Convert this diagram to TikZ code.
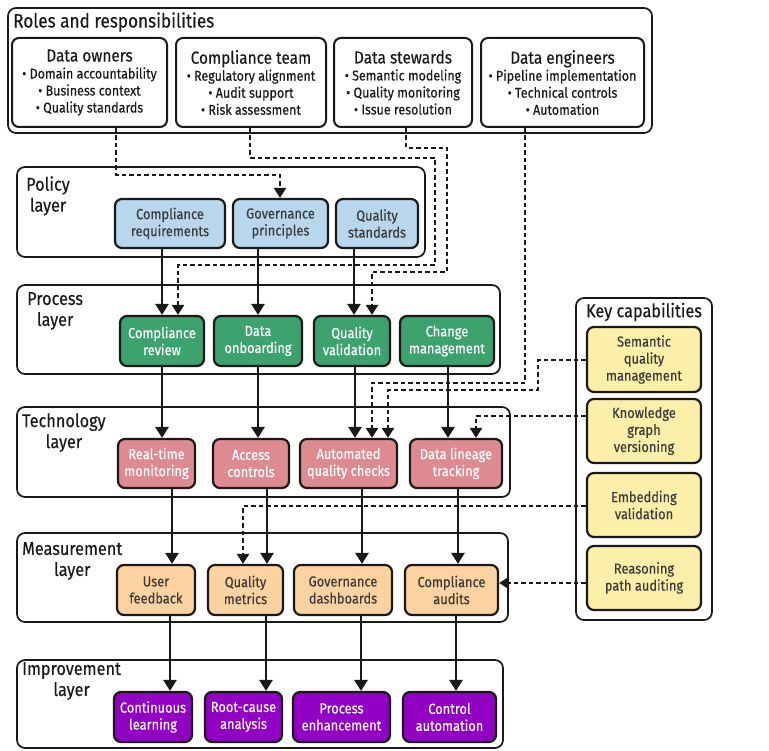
\documentclass[tikz,border=0pt]{standalone}
\usepackage{fontspec}
\setmainfont{Fira Sans}[FakeStretch=0.88, FakeBold=0.3]
\usetikzlibrary{arrows.meta}
\definecolor{ink}{RGB}{25,25,25}
\definecolor{polc}{RGB}{185,215,236}
\definecolor{proc}{RGB}{60,162,110}
\definecolor{tecc}{RGB}{221,138,145}
\definecolor{meac}{RGB}{252,211,160}
\definecolor{impc}{RGB}{146,0,196}
\definecolor{kcc}{RGB}{251,239,170}
\newcommand\rtit[1]{{\fontsize{17.5}{19}\selectfont #1}}
\tikzset{
  box/.style={draw=ink, line width=2.2pt, rounded corners=7pt, align=center, inner sep=1pt,
    font=\fontsize{14.6}{17}\selectfont},
  rolebox/.style={draw=ink, line width=2pt, rounded corners=7pt, align=center, inner sep=1pt,
    font=\fontsize{14.2}{17}\selectfont, text=ink},
  polbox/.style={box, fill=polc, text=ink!85},
  probox/.style={box, fill=proc, text=white},
  tecbox/.style={box, fill=tecc, text=white},
  meabox/.style={box, fill=meac, text=ink!85},
  impbox/.style={box, fill=impc, text=white},
  kcbox/.style={box, fill=kcc, text=ink!85},
  layerbox/.style={draw=ink, line width=1.7pt, rounded corners=8pt},
  layerlabel/.style={anchor=north west, inner sep=0pt, align=center, text=ink,
    font=\fontsize{18.5}{21}\selectfont},
  arr/.style={draw=ink, line width=2.8pt, -{Triangle[length=11pt,width=13pt]}},
  dotarr/.style={draw=ink, line width=2.6pt, dash pattern=on 4.5pt off 3pt,
    -{Triangle[length=10pt,width=12pt]}},
}
\begin{document}
\begin{tikzpicture}[x=1pt,y=-1pt]
\useasboundingbox (0,0) rectangle (769,751);
\fill[white] (0,0) rectangle (769,751);

% ---------- Roles ----------
\draw[layerbox] (8,8) rectangle (652,133);
\node[anchor=west, inner sep=0pt, text=ink, font=\fontsize{19.5}{22}\selectfont] (rtitle) at (13,22) {Roles and responsibilities};
\node[rolebox, minimum width=155pt, minimum height=89pt] (dow) at (89.5,82.5)
  {\rtit{Data owners}\\• Domain accountability\\• Business context\\• Quality standards};
\node[rolebox, minimum width=150pt, minimum height=89pt] (ctm) at (251,82.5)
  {\rtit{Compliance team}\\• Regulatory alignment\\• Audit support\\• Risk assessment};
\node[rolebox, minimum width=138pt, minimum height=89pt] (dst) at (403,82.5)
  {\rtit{Data stewards}\\• Semantic modeling\\• Quality monitoring\\• Issue resolution};
\node[rolebox, minimum width=163pt, minimum height=89pt] (den) at (562.5,82.5)
  {\rtit{Data engineers}\\• Pipeline implementation\\• Technical controls\\• Automation};

% ---------- Layer frames ----------
\draw[layerbox] (17,167) rectangle (425,257);
\draw[layerbox] (17,285) rectangle (500,374);
\draw[layerbox] (17,407) rectangle (510,497);
\draw[layerbox] (17,533) rectangle (508,622);
\draw[layerbox] (17,660) rectangle (503,748);
\node[layerlabel] (lpol) at (26,176) {Policy\\layer};
\node[layerlabel] (lpro) at (27,292) {Process\\layer};
\node[layerlabel] (ltec) at (22,413) {Technology\\layer};
\node[layerlabel] (lmea) at (22,542) {Measurement\\layer};
\node[layerlabel] (limp) at (22,662) {Improvement\\layer};

% ---------- Policy ----------
\node[polbox, minimum width=110pt, minimum height=49pt] (crq) at (170,223.5) {Compliance\\requirements};
\node[polbox, minimum width=95pt, minimum height=49pt] (gpr) at (280.5,223.5) {Governance\\principles};
\node[polbox, minimum width=82pt, minimum height=49pt] (qst) at (377,223.5) {Quality\\standards};

% ---------- Process ----------
\node[probox, minimum width=84pt, minimum height=50pt] (crv) at (162,341) {Compliance\\review};
\node[probox, minimum width=88pt, minimum height=50pt] (don) at (258,341) {Data\\onboarding};
\node[probox, minimum width=76pt, minimum height=50pt] (qva) at (352,341) {Quality\\validation};
\node[probox, minimum width=94pt, minimum height=50pt] (cmg) at (447,341) {Change\\management};

% ---------- Technology ----------
\node[tecbox, minimum width=77pt, minimum height=49pt] (rtm) at (156.5,463.5) {Real-time\\monitoring};
\node[tecbox, minimum width=76pt, minimum height=49pt] (acc) at (251,463.5) {Access\\controls};
\node[tecbox, minimum width=97pt, minimum height=49pt] (aqc) at (348.5,463.5) {Automated\\quality checks};
\node[tecbox, minimum width=92pt, minimum height=49pt] (dlt) at (456,463.5) {Data lineage\\tracking};

% ---------- Measurement ----------
\node[meabox, minimum width=78pt, minimum height=50pt] (ufb) at (156,590) {User\\feedback};
\node[meabox, minimum width=75pt, minimum height=50pt] (qme) at (245.5,590) {Quality\\metrics};
\node[meabox, minimum width=98pt, minimum height=50pt] (gdb) at (343,590) {Governance\\dashboards};
\node[meabox, minimum width=93pt, minimum height=50pt] (cau) at (451.5,590) {Compliance\\audits};

% ---------- Improvement ----------
\node[impbox, minimum width=78pt, minimum height=50pt] (cle) at (153,717) {Continuous\\learning};
\node[impbox, minimum width=77pt, minimum height=50pt] (rca) at (243.5,717) {Root-cause\\analysis};
\node[impbox, minimum width=97pt, minimum height=50pt] (pen) at (341.5,717) {Process\\enhancement};
\node[impbox, minimum width=93pt, minimum height=50pt] (cat) at (449.5,717) {Control\\automation};

% ---------- Key capabilities ----------
\draw[layerbox] (576,298) rectangle (712,620);
\node[inner sep=0pt, text=ink, font=\fontsize{18.5}{21}\selectfont] (kct) at (644,312) {Key capabilities};
\node[kcbox, minimum width=114pt, minimum height=65pt] (sqm) at (644,359.5) {Semantic\\quality\\management};
\node[kcbox, minimum width=114pt, minimum height=64pt] (kgv) at (644,431) {Knowledge\\graph\\versioning};
\node[kcbox, minimum width=114pt, minimum height=64pt] (emb) at (644,505) {Embedding\\validation};
\node[kcbox, minimum width=114pt, minimum height=64pt] (rpa) at (644,578) {Reasoning\\path auditing};

% ---------- Solid connectors ----------
\foreach \n/\x in {v162/162, v258/258, v354/354, v355/355, v448/448, v172/172, v267/267,
  v362/362, v458/458, v170/170, v266/266, v361/361, v456/456}
  \coordinate (\n) at (\x,0);
\draw[arr] (crq.south -| v162) -- (crv.north -| v162);
\draw[arr] (gpr.south -| v258) -- (don.north -| v258);
\draw[arr] (qst.south -| v354) -- (qva.north -| v354);
\draw[arr] (crv.south -| v162) -- (rtm.north -| v162);
\draw[arr] (don.south -| v258) -- (acc.north -| v258);
\draw[arr] (qva.south -| v355) -- (aqc.north -| v355);
\draw[arr] (cmg.south -| v448) -- (dlt.north -| v448);
\draw[arr] (rtm.south -| v172) -- (ufb.north -| v172);
\draw[arr] (acc.south -| v267) -- (qme.north -| v267);
\draw[arr] (aqc.south -| v362) -- (gdb.north -| v362);
\draw[arr] (dlt.south -| v458) -- (cau.north -| v458);
\draw[arr] (ufb.south -| v170) -- (cle.north -| v170);
\draw[arr] (qme.south -| v266) -- (rca.north -| v266);
\draw[arr] (gdb.south -| v361) -- (pen.north -| v361);
\draw[arr] (cau.south -| v456) -- (cat.north -| v456);

% ---------- Dotted connectors ----------
\coordinate (a1) at (116,175); \coordinate (a2) at (280,175);
\draw[dotarr] (dow.south -| a1) -- (a1) -- (a2) -- (gpr.north -| a2);
\coordinate (b1) at (250,158); \coordinate (b2) at (435,158);
\coordinate (b3) at (435,265); \coordinate (b4) at (178,265);
\draw[dotarr] (ctm.south -| b1) -- (b1) -- (b2) -- (b3) -- (b4) -- (crv.north -| b4);
\coordinate (c1) at (406,148); \coordinate (c2) at (447,148);
\coordinate (c3) at (447,272); \coordinate (c4) at (372,272);
\draw[dotarr] (dst.south -| c1) -- (c1) -- (c2) -- (c3) -- (c4) -- (qva.north -| c4);
\coordinate (d1) at (525,383); \coordinate (d2) at (372,383);
\draw[dotarr] (den.south -| d1) -- (d1) -- (d2) -- (aqc.north -| d2);
\coordinate (e1) at (538,360); \coordinate (e2) at (538,390); \coordinate (e3) at (388,390);
\draw[dotarr] (sqm.west |- e1) -- (e1) -- (e2) -- (e3) -- (aqc.north -| e3);
\coordinate (f1) at (476,416);
\draw[dotarr] (kgv.west |- f1) -- (f1) -- (dlt.north -| f1);
\coordinate (g1) at (243,506);
\draw[dotarr] (emb.west |- g1) -- (g1) -- (qme.north -| g1);
\coordinate (h1) at (540,583);
\draw[dotarr] (rpa.west |- h1) -- (cau.east |- h1);
\end{tikzpicture}
\end{document}
